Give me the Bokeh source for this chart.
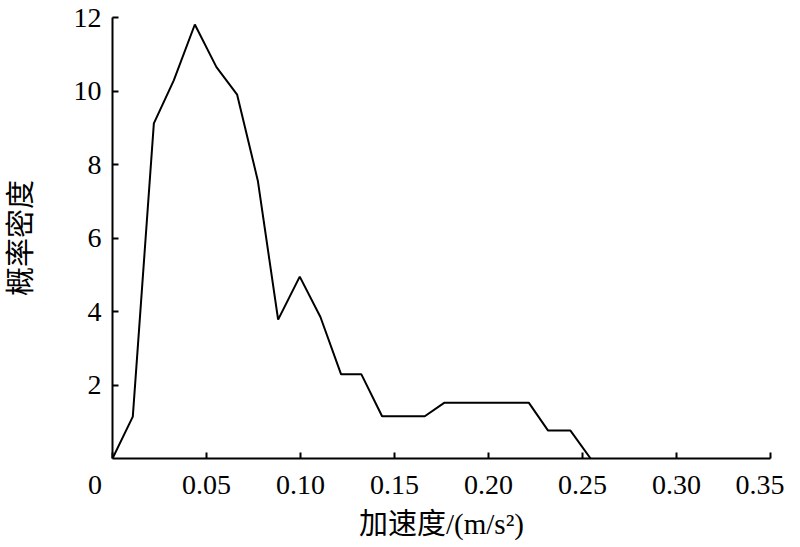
from bokeh.plotting import figure
from bokeh.models import Range1d, FixedTicker
from bokeh.embed import file_html
from bokeh.resources import INLINE

# data
accel = [0.0, 0.0108, 0.0220, 0.0326, 0.0438, 0.0553, 0.0663, 0.0773, 0.0881, 0.0996,
         0.1106, 0.1216, 0.1324, 0.1434, 0.1661, 0.1766, 0.2214, 0.2317, 0.2436, 0.2543]
density = [0.0, 1.14, 9.12, 10.29, 11.81, 10.65, 9.90, 7.56, 3.78, 4.95,
           3.85, 2.29, 2.29, 1.15, 1.15, 1.52, 1.52, 0.76, 0.76, 0.0]
x_ticks = [0.0, 0.05, 0.10, 0.15, 0.20, 0.25, 0.30, 0.35]
x_tick_labels = ["0\u00a0\u00a0\u00a0\u00a0\u00a0", "0.05", "0.10", "0.15", "0.20", "0.25", "0.30", "0.35"]
y_ticks = [2, 4, 6, 8, 10, 12]
x_label = "加速度/(m/s²)"
y_label = "概率密度"

FONT = "Liberation Serif, Noto Sans CJK SC"

p = figure(frame_width=658, frame_height=441, output_backend="svg", toolbar_location=None,
           x_range=Range1d(0, 0.35), y_range=Range1d(0, 12),
           min_border_left=112, min_border_right=14, min_border_top=17, min_border_bottom=60)
p.outline_line_color = None
p.xgrid.visible = False
p.ygrid.visible = False
p.background_fill_color = "white"
p.border_fill_color = "white"

p.line(accel, density, line_color="black", line_width=2)

for ax in (p.xaxis[0], p.yaxis[0]):
    ax.axis_line_width = 2
    ax.axis_line_color = "black"
    ax.major_tick_line_width = 2
    ax.major_tick_line_color = "black"
    ax.major_tick_in = 6
    ax.major_tick_out = 0
    ax.minor_tick_in = 0
    ax.minor_tick_out = 0
    ax.major_label_text_font = FONT
    ax.major_label_text_font_size = "28px"
    ax.major_label_text_color = "black"
    ax.axis_label_text_font = FONT
    ax.axis_label_text_font_size = "29px"
    ax.axis_label_text_font_style = "normal"
    ax.axis_label_text_color = "black"

p.xaxis.ticker = FixedTicker(ticks=x_ticks)
p.xaxis.major_label_overrides = {t: l for t, l in zip(x_ticks, x_tick_labels)}
p.yaxis.ticker = FixedTicker(ticks=y_ticks)
p.xaxis.axis_label = x_label
p.yaxis.axis_label = y_label
p.xaxis.major_label_standoff = 10
p.yaxis.major_label_standoff = 11
p.xaxis.axis_label_standoff = 5
p.yaxis.axis_label_standoff = 34

open("out.html", "w").write(file_html(p, INLINE))
